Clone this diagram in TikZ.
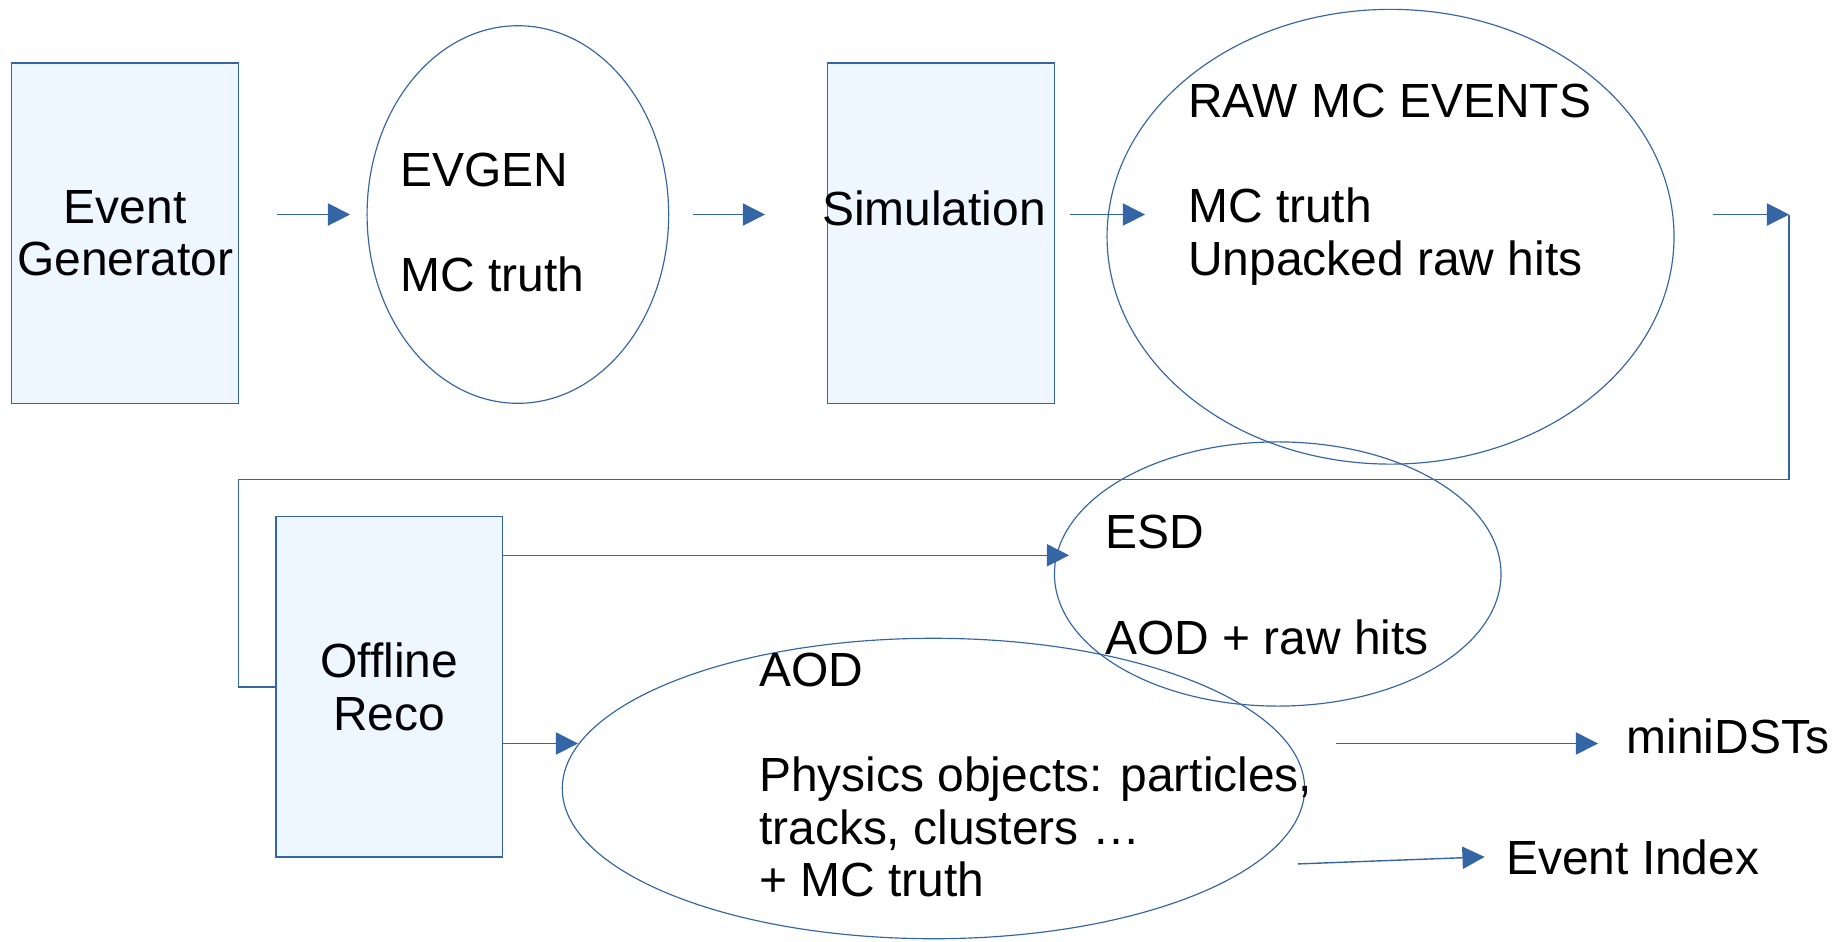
\documentclass[tikz,border=0pt]{standalone}
\usepackage{fontspec}
\setmainfont{Liberation Sans}
\usepackage{tikz}
\usetikzlibrary{
	shapes.geometric,
	calc,
	arrows.meta
}
\definecolor{lineblue}{HTML}{3465A4}
\definecolor{boxfill}{HTML}{EEF6FF}
\tikzset{
	x=0.5pt,
	y=-0.5pt,
	every node/.style={
		inner sep=0pt,
		font=\fontsize{20.5pt}{22.5pt}\selectfont
	},
	proc/.style={
		rectangle,
		draw=lineblue,
		fill=boxfill,
		line width=0.6pt,
		minimum width=97pt,
		minimum height=145.5pt,
		align=center
	},
	store/.style={
		ellipse,
		draw=lineblue,
		line width=0.5pt
	},
	txt/.style={
		align=left,
		anchor=west
	},
	flow/.style={
		draw=lineblue,
		line width=0.6pt,
		-{Triangle[length=9.5pt,width=9.5pt]}
	},
	link/.style={
		draw=lineblue,
		line width=0.6pt
	}
}

\begin{document}
\begin{tikzpicture}
	\useasboundingbox (0,0) rectangle (1568,805);
	\draw
		node[proc]                                              (gen)    at (107,199.5)  {Event\\Generator}
		node[store,minimum width=129pt,minimum height=161.5pt]  (evgen)  at (443,183.5)  {}
		node[proc]                                              (sim)    at (805,199.5)  {}
		node[store,minimum width=242.5pt,minimum height=194.5pt](raw)    at (1189.5,202.5) {}
		node[proc]                                              (reco)   at (333,587.5)  {Offline\\Reco}
		node[store,minimum width=191pt,minimum height=113pt]    (esd)    at (1093,491)   {}
		node[store,minimum width=317.5pt,minimum height=128.5pt](aod)    at (798.5,674.5) {}

		node[txt]                (evgentxt) at (342,190)  {EVGEN\\[22.5pt]MC truth}
		node                     (simtxt)   at (799,178)  {Simulation}
		node[txt]                (rawtxt)   at (1016,158) {RAW MC EVENTS\\[22.5pt]MC truth\\Unpacked raw hits}
		node[txt]                (esdtxt)   at (945,500.5) {ESD\\[22.5pt]AOD + raw hits}
		node[txt]                (aodtxt)   at (649,663)  {AOD\\[22.5pt]Physics objects: particles,\\tracks, clusters …\\+ MC truth}
		node[txt]                (mini)     at (1391,630) {miniDSTs}
		node[txt]                (evidx)    at (1288,733) {Event Index}
	;

	\coordinate (turn) at ($(raw.east |- evgen.east)+(98,0)$);
	\coordinate (bend) at (204,410);

	\draw
		($(gen.east |- evgen.west)+(32,0)$) edge[flow] ($(evgen.west)+(-14,0)$)
		($(evgen.east)+(20,0)$)             edge[flow] ($(sim.west |- evgen.east)+(-53,0)$)
		($(sim.east |- evgen.east)+(13,0)$) edge[flow] ($(raw.west |- evgen.east)+(33,0)$)
		($(raw.east |- evgen.east)+(33,0)$) edge[flow] (turn)
		($(reco.east)+(0,-112.5)$)          edge[flow] ($(reco.east -| esd.west)+(13,-112.5)$)
		($(reco.east)+(0,48.5)$)            edge[flow] ($(aod.west |- reco.east)+(14,48.5)$)
		($(aod.east)+(26,-38.5)$)           edge[flow] ($(mini.west)+(-24,6)$)
		($(aod.east)+(-6,64.5)$)            edge[flow] ($(evidx.west)+(-18,0)$)
	;
	\draw[link] (turn) |- (bend) |- (reco.west);
\end{tikzpicture}
\end{document}
